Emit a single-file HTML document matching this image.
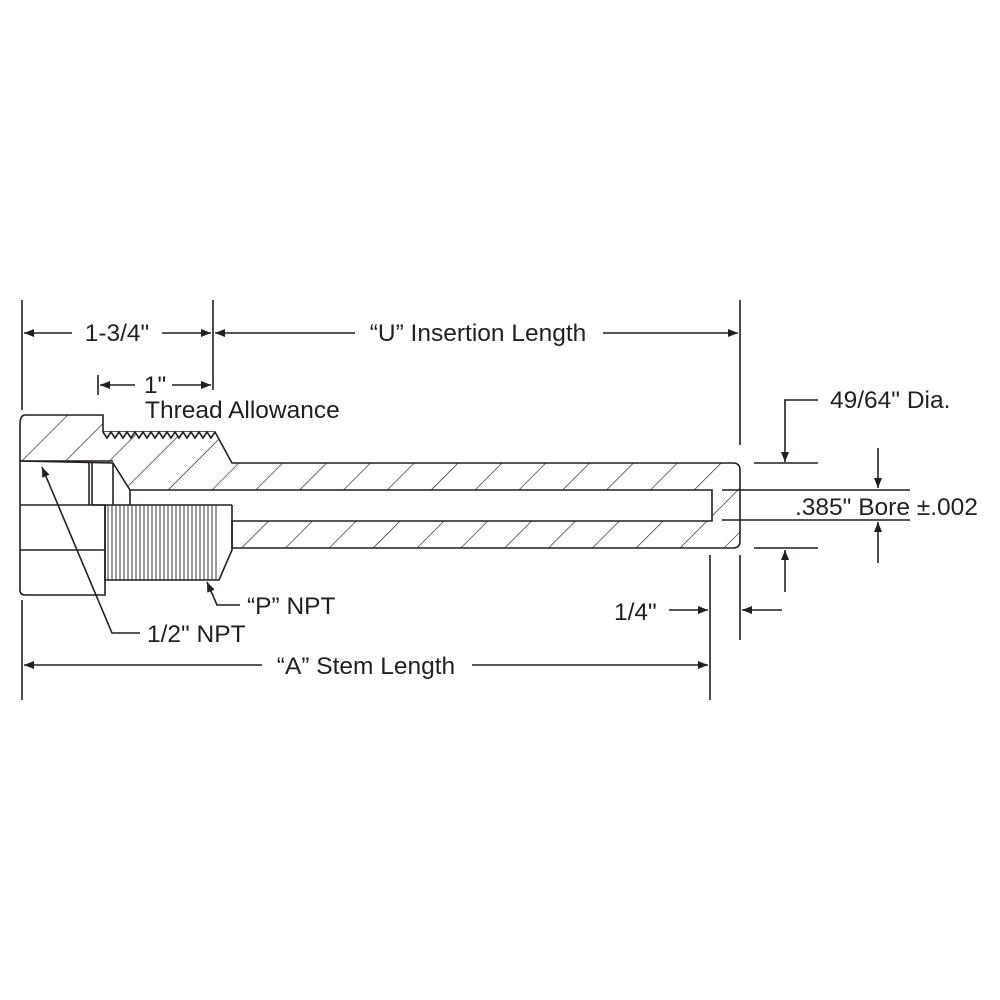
<!DOCTYPE html>
<html><head><meta charset="utf-8"><style>
html,body{margin:0;padding:0;background:#fff;}
svg{display:block}
text{font-family:"Liberation Sans",sans-serif;font-size:24.5px;fill:#231f20}
</style></head><body>
<svg width="1000" height="1000" viewBox="0 0 1000 1000" xmlns="http://www.w3.org/2000/svg">
<defs>
<pattern id="h" patternUnits="userSpaceOnUse" width="31" height="31" patternTransform="rotate(45)">
<line x1="0" y1="0" x2="0" y2="31" stroke="#231f20" stroke-width="1.3"/>
</pattern>
<marker id="a" markerWidth="10" markerHeight="8" refX="10" refY="4" orient="auto" markerUnits="userSpaceOnUse">
<path d="M0,0 L10,4 L0,8 z" fill="#231f20"/>
</marker>
</defs>
<g stroke="#231f20" stroke-width="1.6" fill="none">
<path d="M25,415 L103,415 L103,432 L215,432 L232,463 L733,463 Q740,463 740,470 L740,541 Q740,548 733,548 L232,548 L232,521 L712,521 L712,490 L130,490 L113,463 L20,461 L20,425 Q20,415 25,415 z" fill="url(#h)"/>
<path d="M103,432 l4,6 4,-6 4,6 4,-6 4,6 4,-6 4,6 4,-6 4,6 4,-6 4,6 4,-6 4,6 4,-6 4,6 4,-6 4,6 4,-6 4,6 4,-6 4,6 4,-6 4,6 4,-6 4,6 4,-6 4,6 4,-6" fill="#fff"/>
<path d="M20,461 L20,590 Q20,595 25,595 L105,595 L105,505 L20,505" />
<line x1="20" y1="550" x2="105" y2="550"/>
<line x1="20" y1="461" x2="113" y2="461"/>
<line x1="89" y1="462" x2="89" y2="505"/>
<line x1="92" y1="462" x2="92" y2="505"/>
<line x1="113" y1="463" x2="113" y2="505"/>
<line x1="130" y1="490" x2="130" y2="505"/>
<line x1="92" y1="505" x2="232" y2="505"/>
<path d="M105,505 L105,580 L219,580 L232,550 L232,505"/>
<g stroke-width="0.9">
<path d="M108,505V580M112,505V580M116,505V580M120,505V580M124,505V580M128,505V580M132,505V580M136,505V580M140,505V580M144,505V580M148,505V580M152,505V580M156,505V580M160,505V580M164,505V580M168,505V580M172,505V580M176,505V580M180,505V580M184,505V580M188,505V580M192,505V580M196,505V580M200,505V580M204,505V580M208,505V580M212,505V580M216,505V580"/>
</g>
<line x1="22" y1="300" x2="22" y2="410"/>
<line x1="213" y1="300" x2="213" y2="390"/>
<line x1="740" y1="300" x2="740" y2="445"/>
<line x1="98" y1="375" x2="98" y2="395"/>
<line x1="22" y1="600" x2="22" y2="700"/>
<line x1="710" y1="555" x2="710" y2="700"/>
<line x1="740" y1="555" x2="740" y2="640"/>
<line x1="72" y1="333" x2="24" y2="333" marker-end="url(#a)"/>
<line x1="162" y1="333" x2="211" y2="333" marker-end="url(#a)"/>
<line x1="355" y1="333" x2="215" y2="333" marker-end="url(#a)"/>
<line x1="603" y1="333" x2="738" y2="333" marker-end="url(#a)"/>
<line x1="135" y1="385" x2="100" y2="385" marker-end="url(#a)"/>
<line x1="172" y1="385" x2="211" y2="385" marker-end="url(#a)"/>
<line x1="262" y1="665" x2="24" y2="665" marker-end="url(#a)"/>
<line x1="472" y1="665" x2="708" y2="665" marker-end="url(#a)"/>
<line x1="669" y1="610" x2="708" y2="610" marker-end="url(#a)"/>
<line x1="782" y1="610" x2="742" y2="610" marker-end="url(#a)"/>
<path d="M818,400 L785,400 L785,462" marker-end="url(#a)"/>
<line x1="754" y1="463" x2="818" y2="463"/>
<line x1="754" y1="548" x2="818" y2="548"/>
<line x1="785" y1="592" x2="785" y2="550" marker-end="url(#a)"/>
<line x1="722" y1="490" x2="910" y2="490"/>
<line x1="722" y1="520" x2="910" y2="520"/>
<line x1="878" y1="448" x2="878" y2="488" marker-end="url(#a)"/>
<line x1="878" y1="563" x2="878" y2="522" marker-end="url(#a)"/>
<path d="M240,605 L217,605 L207,582" marker-end="url(#a)"/>
<path d="M140,633 L112,633 L42,467" marker-end="url(#a)"/>
</g>
<text x="117" y="341" text-anchor="middle">1-3/4"</text>
<text x="478" y="341" text-anchor="middle">“U” Insertion Length</text>
<text x="155" y="393" text-anchor="middle">1"</text>
<text x="145" y="418">Thread Allowance</text>
<text x="830" y="408">49/64" Dia.</text>
<text x="795" y="515">.385" Bore ±.002</text>
<text x="247" y="614">“P” NPT</text>
<text x="147" y="642">1/2" NPT</text>
<text x="614" y="620">1/4"</text>
<text x="366" y="674" text-anchor="middle">“A” Stem Length</text>
</svg>
</body></html>
